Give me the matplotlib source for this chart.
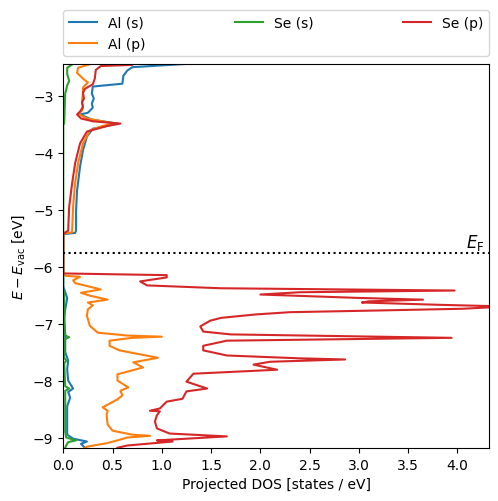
import matplotlib

matplotlib.use("Agg")
import matplotlib.pyplot as plt

# energies [eV] and projected DOS [states / eV]
al_s_energy = [-2.44, -2.50, -2.56, -2.65, -2.79, -2.84, -2.96, -3.05, -3.14, -3.21, -3.30,
               -3.33, -3.42, -3.49, -3.53, -3.58, -3.72, -3.96, -4.25, -4.67, -5.02, -5.37,
               -5.41, -5.43,
               -6.13, -6.35, -6.45, -6.55, -6.65, -6.75, -6.90, -7.20, -7.50, -7.65, -7.80,
               -8.00, -8.14, -8.20, -8.30, -8.45, -8.70, -8.95, -9.02, -9.07, -9.11, -9.18]
al_s_dos = [1.28, 0.70, 0.65, 0.61, 0.60, 0.30, 0.29, 0.31, 0.29, 0.30, 0.25,
            0.17, 0.29, 0.55, 0.45, 0.30, 0.24, 0.20, 0.17, 0.14, 0.13, 0.13,
            0.12, 0.0,
            0.0, 0.0, 0.02, 0.04, 0.03, 0.02, 0.01, 0.02, 0.02, 0.05, 0.04,
            0.05, 0.10, 0.05, 0.07, 0.04, 0.04, 0.04, 0.10, 0.24, 0.18, 0.22]

al_p_energy = [-2.44, -2.51, -2.60, -2.70, -2.77, -2.82, -2.86, -2.96, -3.10, -3.20, -3.26,
               -3.32, -3.40, -3.49, -3.53, -3.61, -3.84, -4.19, -4.54, -4.95, -5.37, -5.40,
               -5.42,
               -6.13, -6.16, -6.18, -6.24, -6.29, -6.40, -6.46, -6.51, -6.58, -6.63, -6.68,
               -6.75, -6.86, -7.04, -7.16, -7.21, -7.23, -7.25, -7.30, -7.39, -7.47, -7.54,
               -7.60, -7.68, -7.77, -7.89, -8.00, -8.12, -8.18, -8.26, -8.33, -8.47, -8.53,
               -8.60, -8.77, -8.88, -8.95, -8.97, -9.00, -9.05, -9.10, -9.16, -9.18]
al_p_dos = [0.29, 0.15, 0.14, 0.20, 0.25, 0.22, 0.20, 0.20, 0.19, 0.20, 0.19,
            0.15, 0.24, 0.52, 0.40, 0.27, 0.20, 0.15, 0.12, 0.10, 0.09, 0.09,
            0.0,
            0.0, 0.02, 0.17, 0.10, 0.12, 0.38, 0.18, 0.27, 0.45, 0.25, 0.30,
            0.25, 0.24, 0.27, 0.35, 0.65, 1.00, 0.70, 0.47, 0.47, 0.57, 0.78,
            0.96, 0.71, 0.81, 0.55, 0.55, 0.66, 0.58, 0.60, 0.55, 0.40, 0.45,
            0.44, 0.45, 0.50, 0.70, 0.88, 0.65, 0.55, 0.44, 0.24, 0.22]

se_s_energy = [-2.44, -2.51, -2.62, -2.74, -2.82, -2.96, -3.20, -3.48, -3.52,
               -6.13, -6.40, -6.50, -6.80, -7.20, -7.24, -7.28, -7.60, -7.65, -7.70,
               -8.10, -8.14, -8.18, -8.90, -9.00, -9.05, -9.08, -9.14, -9.18]
se_s_dos = [0.10, 0.04, 0.04, 0.06, 0.04, 0.02, 0.015, 0.01, 0.0,
            0.0, 0.0, 0.01, 0.01, 0.01, 0.06, 0.01, 0.01, 0.03, 0.01,
            0.02, 0.06, 0.02, 0.02, 0.03, 0.13, 0.05, 0.03, 0.02]

se_p_energy = [-2.44, -2.46, -2.48, -2.55, -2.70, -2.80, -2.88, -2.95, -3.05, -3.12, -3.20,
               -3.28, -3.33, -3.40, -3.45, -3.49, -3.53, -3.63, -3.84, -4.19, -4.54, -4.95,
               -5.37, -5.40, -5.43,
               -6.12, -6.15, -6.19, -6.26, -6.33, -6.38, -6.42, -6.45, -6.49, -6.55, -6.58,
               -6.61, -6.63, -6.67, -6.70, -6.74, -6.77, -6.80, -6.84, -6.90, -6.95, -7.05,
               -7.14, -7.19, -7.25, -7.30, -7.39, -7.47, -7.56, -7.61, -7.63, -7.67, -7.72,
               -7.81, -7.88, -8.02, -8.14, -8.19, -8.32, -8.37, -8.49, -8.53, -8.54, -8.61,
               -8.72, -8.84, -8.93, -8.98, -9.05, -9.07, -9.14, -9.18]
se_p_dos = [0.71, 0.70, 0.38, 0.33, 0.32, 0.30, 0.22, 0.20, 0.21, 0.19, 0.20,
            0.17, 0.14, 0.18, 0.30, 0.58, 0.45, 0.24, 0.17, 0.12, 0.09, 0.06,
            0.05, 0.02, 0.0,
            0.0, 1.05, 1.05, 0.78, 0.85, 1.60, 3.97, 2.40, 2.00, 3.00, 3.65,
            3.10, 3.03, 3.80, 4.50, 4.05, 3.20, 2.30, 1.95, 1.60, 1.49, 1.39,
            1.42, 1.70, 3.94, 1.66, 1.42, 1.42, 1.66, 2.40, 2.86, 2.10, 1.93,
            2.17, 1.32, 1.25, 1.46, 1.25, 1.21, 1.05, 0.98, 0.88, 0.98, 0.95,
            0.93, 0.95, 1.08, 1.66, 0.95, 1.11, 0.65, 0.55]

fermi_level = -5.76
labels = ["Al (s)", "Al (p)", "Se (s)", "Se (p)"]

fig, ax = plt.subplots(figsize=(4.98, 5.02), dpi=100)
fig.subplots_adjust(left=0.127, right=0.982, bottom=0.106, top=0.871)

ax.plot(al_s_dos, al_s_energy, color="C0", label=labels[0])
ax.plot(al_p_dos, al_p_energy, color="C1", label=labels[1])
ax.plot(se_s_dos, se_s_energy, color="C2", label=labels[2])
ax.plot(se_p_dos, se_p_energy, color="C3", label=labels[3])

ax.axhline(fermi_level, color="k", linestyle=":")
ax.text(4.27, fermi_level + 0.02, r"$E_\mathrm{F}$", ha="right", va="bottom", fontsize=12)

ax.set_xlim(0, 4.32)
ax.set_ylim(-9.18, -2.44)
ax.set_xlabel("Projected DOS [states / eV]")
ax.set_ylabel(r"$E - E_\mathrm{vac}$ [eV]")
ax.legend(bbox_to_anchor=(0, 1.02, 1, 0.2), loc="lower left", mode="expand",
          borderaxespad=0, ncol=3)

fig.savefig("out.png")
plt.close(fig)
